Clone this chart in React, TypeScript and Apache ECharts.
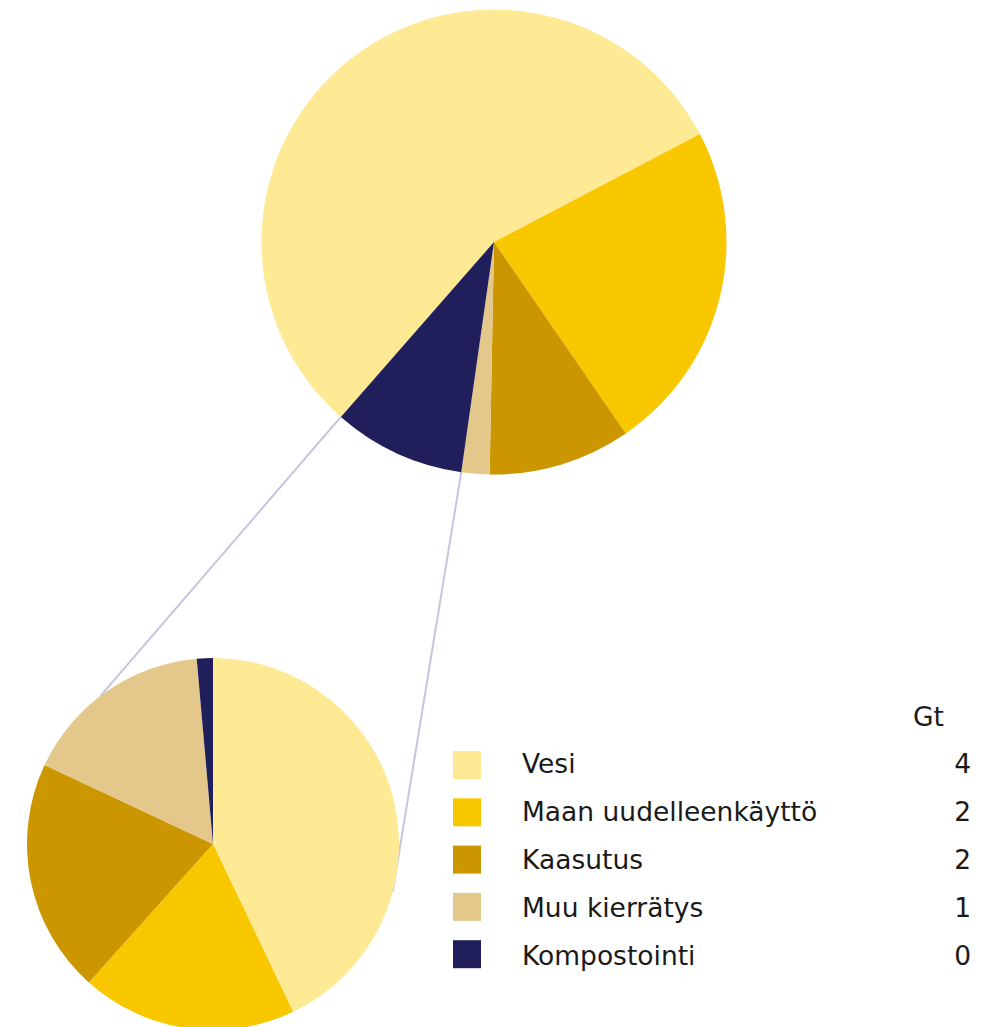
import React, { useEffect, useRef } from "react";
import * as echarts from "echarts";

// ---- data ----
const categories = ["Vesi", "Maan uudelleenkäyttö", "Kaasutus", "Muu kierrätys", "Kompostointi"];
const colors = ["#FEE994", "#F9C700", "#CC9600", "#E4C78B", "#211F5B"];
// upper (overview) pie – shares
const mainValues = [55.9, 23.1, 9.9, 1.95, 9.2];
// lower (detail) pie – Gt
const detailValues = [3.69, 1.61, 1.75, 1.43, 0.12];
const unitLabel = "Gt";
const explodedIndex = 4; // slice of the upper pie that is expanded below

// ---- layout ----
const W = 997;
const H = 1027;
const TOP = { cx: 494, cy: 242, r: 232.5, start: 228.8 };
const BOTTOM = { cx: 213, cy: 844, r: 186, start: 90 };
const CONNECT_END_ANGLES = [232.8, 15]; // screen degrees on the lower pie
const FONT = "DejaVu Sans";
const FONT_SIZE = 26.5;
const TEXT_COLOR = "#1a1a1a";
const LINE_COLOR = "#C6C4DE";

function pt(cx: number, cy: number, r: number, deg: number): [number, number] {
  const a = (deg * Math.PI) / 180;
  return [cx + r * Math.cos(a), cy + r * Math.sin(a)];
}

function sliceBounds(values: number[], startAngle: number, idx: number): [number, number] {
  const total = values.reduce((s, v) => s + v, 0);
  let cum = 0;
  for (let i = 0; i < idx; i++) cum += values[i];
  const a0 = -startAngle + (cum / total) * 360;
  const a1 = -startAngle + ((cum + values[idx]) / total) * 360;
  return [a0, a1];
}

export default function App() {
  const ref = useRef<HTMLDivElement>(null);

  useEffect(() => {
    if (!ref.current) return;
    const chart = echarts.init(ref.current, null, { renderer: "svg" });

    const [kStart, kEnd] = sliceBounds(mainValues, TOP.start, explodedIndex);
    const topA = pt(TOP.cx, TOP.cy, TOP.r, kEnd);
    const topB = pt(TOP.cx, TOP.cy, TOP.r, kStart);
    const botA = pt(BOTTOM.cx, BOTTOM.cy, BOTTOM.r, CONNECT_END_ANGLES[0]);
    const botB = pt(BOTTOM.cx, BOTTOM.cy, BOTTOM.r, CONNECT_END_ANGLES[1]);

    const legendX = 453;
    const legendY0 = 751;
    const rowH = 47.3;
    const textY0 = 763;
    const textRowH = 48;
    const sq = 28;
    const font = `${FONT_SIZE}px "${FONT}"`;

    const legendEls: any[] = [];
    legendEls.push({
      type: "text",
      x: 944,
      y: 716,
      z: 10,
      style: {
        text: unitLabel,
        fill: TEXT_COLOR,
        font,
        align: "right",
        verticalAlign: "middle",
      },
    });
    categories.forEach((c, i) => {
      const y = legendY0 + i * rowH;
      const ty = textY0 + i * textRowH;
      legendEls.push({
        type: "rect",
        z: 10,
        shape: { x: legendX, y, width: sq, height: sq },
        style: { fill: colors[i] },
      });
      legendEls.push({
        type: "text",
        x: 522,
        y: ty,
        z: 10,
        style: {
          text: c,
          fill: TEXT_COLOR,
          font,
          align: "left",
          verticalAlign: "middle",
        },
      });
      legendEls.push({
        type: "text",
        x: 971,
        y: ty,
        z: 10,
        style: {
          text: String(Math.round(detailValues[i])),
          fill: TEXT_COLOR,
          font,
          align: "right",
          verticalAlign: "middle",
        },
      });
    });

    const pieCommon = {
      type: "pie" as const,
      silent: true,
      avoidLabelOverlap: false,
      label: { show: false },
      labelLine: { show: false },
      emphasis: { disabled: true },
      itemStyle: { borderWidth: 0 },
      z: 5,
    };

    chart.setOption({
      animation: false,
      backgroundColor: "#ffffff",
      series: [
        {
          ...pieCommon,
          center: [TOP.cx, TOP.cy],
          radius: [0, TOP.r],
          startAngle: TOP.start,
          data: categories.map((n, i) => ({ name: n, value: mainValues[i], itemStyle: { color: colors[i] } })),
        },
        {
          ...pieCommon,
          center: [BOTTOM.cx, BOTTOM.cy],
          radius: [0, BOTTOM.r],
          startAngle: BOTTOM.start,
          data: categories.map((n, i) => ({ name: n, value: detailValues[i], itemStyle: { color: colors[i] } })),
        },
      ],
      graphic: {
        elements: [
          {
            type: "line",
            z: 0,
            shape: { x1: topA[0], y1: topA[1], x2: botA[0], y2: botA[1] },
            style: { stroke: LINE_COLOR, lineWidth: 2 },
          },
          {
            type: "line",
            z: 0,
            shape: { x1: topB[0], y1: topB[1], x2: botB[0], y2: botB[1] },
            style: { stroke: LINE_COLOR, lineWidth: 2 },
          },
          ...legendEls,
        ],
      },
    });

    return () => chart.dispose();
  }, []);

  return (
    <div
      ref={ref}
      style={{ position: "absolute", left: 0, top: 0, width: W, height: H }}
    />
  );
}
